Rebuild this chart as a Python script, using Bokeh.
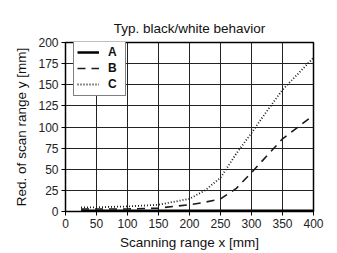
from bokeh.plotting import figure
from bokeh.models import FixedTicker, Range1d, Legend, LegendItem, Label
from bokeh.embed import file_html
from bokeh.resources import INLINE

x_vals = [25, 50, 100, 150, 200, 225, 250, 275, 300, 325, 350, 375, 400]
series_a = [1, 1, 1, 1, 1, 1, 1, 1, 1, 1, 1, 1, 1]
series_b = [3, 3, 3, 4, 8, 11, 15, 27, 46, 66, 86, 100, 114]
series_c = [5, 5, 6, 8, 15, 25, 40, 68, 93, 119, 144, 163, 182]
x_ticks = [0, 50, 100, 150, 200, 250, 300, 350, 400]
y_ticks = [0, 25, 50, 75, 100, 125, 150, 175, 200]
heading = "Models of laser class 1"
subtitle = "Typ. black/white behavior"

FONT = "Liberation Sans"

p = figure(width=337, height=253, output_backend="svg", toolbar_location=None,
           x_range=Range1d(0, 400), y_range=Range1d(0, 200),
           min_border_left=65, min_border_right=24, min_border_top=42, min_border_bottom=42)

p.title.text = subtitle
p.title.align = "center"
p.title.offset = -18
p.title.standoff = 14
p.title.text_font = FONT
p.title.text_font_size = "13.5px"
p.title.text_font_style = "normal"
p.title.text_color = "#111111"

# heading that is cut off at the very top of the page
p.add_layout(Label(x=-77, y=244.5, text=heading, text_font=FONT, text_font_size="18px",
                   text_font_style="bold", text_color="#111111", text_baseline="alphabetic"))

la = p.line(x_vals, series_a, line_color="black", line_width=2.5)
lb = p.line(x_vals, series_b, line_color="#1a1a1a", line_width=1.6, line_dash="8 6")
lc = p.line(x_vals, series_c, line_color="#1a1a1a", line_width=1.8, line_dash="1 2")

legend = Legend(items=[LegendItem(label="A", renderers=[la]),
                       LegendItem(label="B", renderers=[lb]),
                       LegendItem(label="C", renderers=[lc])],
                location=(8, 115))
legend.glyph_width = 22
legend.glyph_height = 16
legend.label_height = 16
legend.label_width = 14
legend.label_standoff = 9
legend.spacing = 0
legend.padding = 3
legend.margin = 0
legend.label_text_font = FONT
legend.label_text_font_size = "12px"
legend.label_text_font_style = "bold"
legend.label_text_color = "#111111"
legend.border_line_color = "black"
legend.border_line_width = 1
legend.background_fill_alpha = 1
p.add_layout(legend)

for ax in (p.xaxis, p.yaxis):
    ax.major_label_text_font = FONT
    ax.major_label_text_font_size = "12px"
    ax.major_label_text_color = "#222222"
    ax.axis_label_text_font = FONT
    ax.axis_label_text_font_size = "13.5px"
    ax.axis_label_text_font_style = "normal"
    ax.axis_label_text_color = "#111111"
    ax.axis_line_color = "black"
    ax.major_tick_line_color = "black"
    ax.minor_tick_line_color = None
    ax.major_tick_out = 4
    ax.major_tick_in = 0

p.xaxis.ticker = FixedTicker(ticks=x_ticks)
p.yaxis.ticker = FixedTicker(ticks=y_ticks)
p.xaxis.axis_label = "Scanning range x [mm]"
p.yaxis.axis_label = "Red. of scan range y [mm]"
p.xaxis.axis_label_standoff = 4
p.yaxis.axis_label_standoff = 6
p.xaxis.major_label_standoff = 3
p.yaxis.major_label_standoff = 3

p.xgrid.grid_line_color = "#222222"
p.ygrid.grid_line_color = "#222222"
p.xgrid.ticker = FixedTicker(ticks=x_ticks)
p.ygrid.ticker = FixedTicker(ticks=y_ticks)

p.outline_line_color = "black"
p.outline_line_width = 1.5
p.background_fill_color = "white"
p.border_fill_color = "white"

open("out.html", "w").write(file_html(p, INLINE))
